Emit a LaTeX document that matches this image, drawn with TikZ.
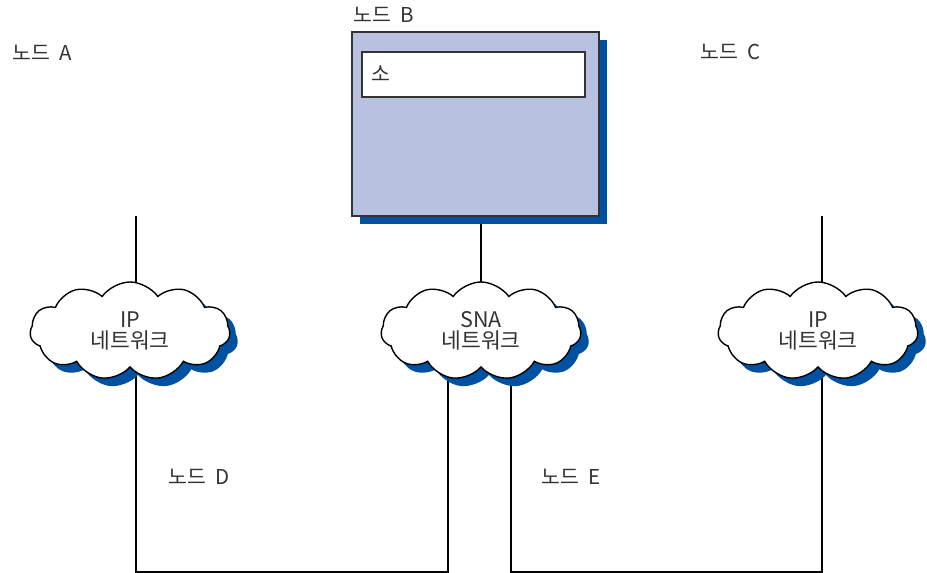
\documentclass[tikz,border=0pt]{standalone}
\usepackage{fontspec}
\setmainfont{Noto Sans CJK KR}
\usetikzlibrary{shapes.symbols,shadows,backgrounds}
\definecolor{shadowblue}{HTML}{0051A2}
\definecolor{boxfill}{HTML}{B8C1E0}
\definecolor{txt}{HTML}{333333}
\newcommand{\gap}{\hspace{0.45em}}
\tikzset{
  lbl/.style={font=\fontsize{20.5}{20}\selectfont, text=txt, anchor=west, inner sep=0pt},
  net/.style={cloud, cloud puffs=11, cloud puff arc=110, aspect=2.05, draw=black, line width=1.4pt, fill=white,
    minimum width=200pt, minimum height=98pt, inner sep=0pt, align=center, text=txt,
    font=\fontsize{21.5}{20.5}\selectfont,
    drop shadow={shadow xshift=8pt, shadow yshift=-8pt, fill=shadowblue, opacity=1}},
  wire/.style={draw=black, line width=1.3pt},
}
\begin{document}
\begin{tikzpicture}[x=1pt,y=-1pt]
\useasboundingbox (0,0) rectangle (927,573);
% labels
\node[lbl] (labA) at (12,53) {노드\gap A};
\node[lbl] (labB) at (353,15) {노드\gap B};
\node[lbl] (labC) at (700,52) {노드\gap C};
\node[lbl] (labD) at (168,477) {노드\gap D};
\node[lbl] (labE) at (541,477) {노드\gap E};
% node B box
\node[draw=txt, line width=1.4pt, fill=boxfill, minimum width=247pt, minimum height=184pt, inner sep=0pt,
  drop shadow={shadow xshift=8pt, shadow yshift=-8pt, fill=shadowblue, opacity=1}] (boxB) at (475.5,124) {};
\node[draw=txt, line width=1.3pt, fill=white, minimum width=223pt, minimum height=45pt, inner sep=0pt] (inner) at (473.5,74.5) {};
\node[lbl] (so) at (371,74) {소};
% clouds
\node[net] (ipA) at (130,331) {IP\\네트워크};
\node[net] (sna) at (481,331) {SNA\\네트워크};
\node[net] (ipC) at (818,331) {IP\\네트워크};
% connector end points
\coordinate (aTop) at (136,216);
\coordinate (cTop) at (822,216);
\coordinate (dL) at (136,572);
\coordinate (dR) at (448,572);
\coordinate (eL) at (511,572);
\coordinate (eR) at (822,572);
\begin{pgfonlayer}{background}
\draw[wire] (aTop) -- (aTop |- ipA.center);
\draw[wire] (cTop) -- (cTop |- ipC.center);
\draw[wire] (boxB.south -| sna.center) -- (sna.center);
\draw[wire] (dL |- ipA.center) -- (dL) -- (dR) -- (dR |- sna.center);
\draw[wire] (eL |- sna.center) -- (eL) -- (eR) -- (eR |- ipC.center);
\end{pgfonlayer}
\end{tikzpicture}
\end{document}
